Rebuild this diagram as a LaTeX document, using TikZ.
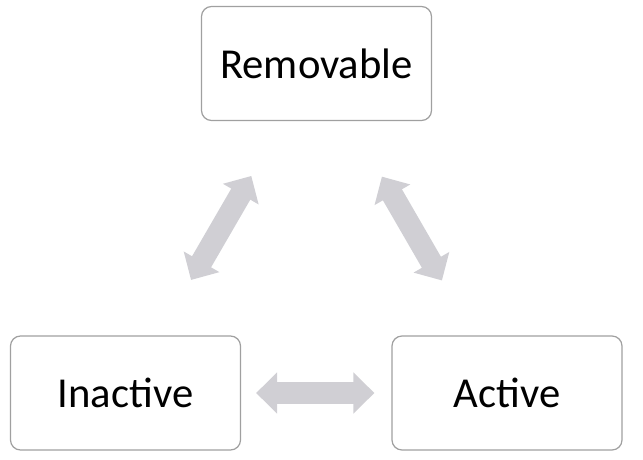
\documentclass[tikz,border=0pt]{standalone}
\usepackage{fontspec}
\setmainfont{Carlito}
\usetikzlibrary{arrows.meta}
\definecolor{boxline}{RGB}{160,160,160}
\definecolor{arrowgray}{RGB}{208,207,212}
\begin{document}
\begin{tikzpicture}[x=0.75pt,y=-0.75pt,
  statebox/.style={draw=boxline, line width=0.9pt, rounded corners=7.5pt, fill=white,
    minimum width=172.5pt, minimum height=85.5pt, inner sep=0pt, font=\fontsize{32}{38}\selectfont},
  bigarrow/.style={draw=arrowgray, line width=16.5pt,
    {Triangle[width=30pt,length=15.75pt]}-{Triangle[width=30pt,length=15.75pt]}}
]
\useasboundingbox (0,0) rectangle (643,460);
\node[statebox] (rem) at (316.5,63.5) {Removable};
\node[statebox] (ina) at (125.5,393) {Inactive};
\node[statebox] (act) at (507,393) {Active};
\draw[bigarrow, shorten <=15*0.75pt, shorten >=17*0.75pt] (ina) -- (act);
\draw[bigarrow, shorten <=97.5pt, shorten >=98pt] (rem.center) -- (ina.center);
\draw[bigarrow, shorten <=98pt, shorten >=97.5pt] (rem.center) -- (act.center);
\end{tikzpicture}
\end{document}
